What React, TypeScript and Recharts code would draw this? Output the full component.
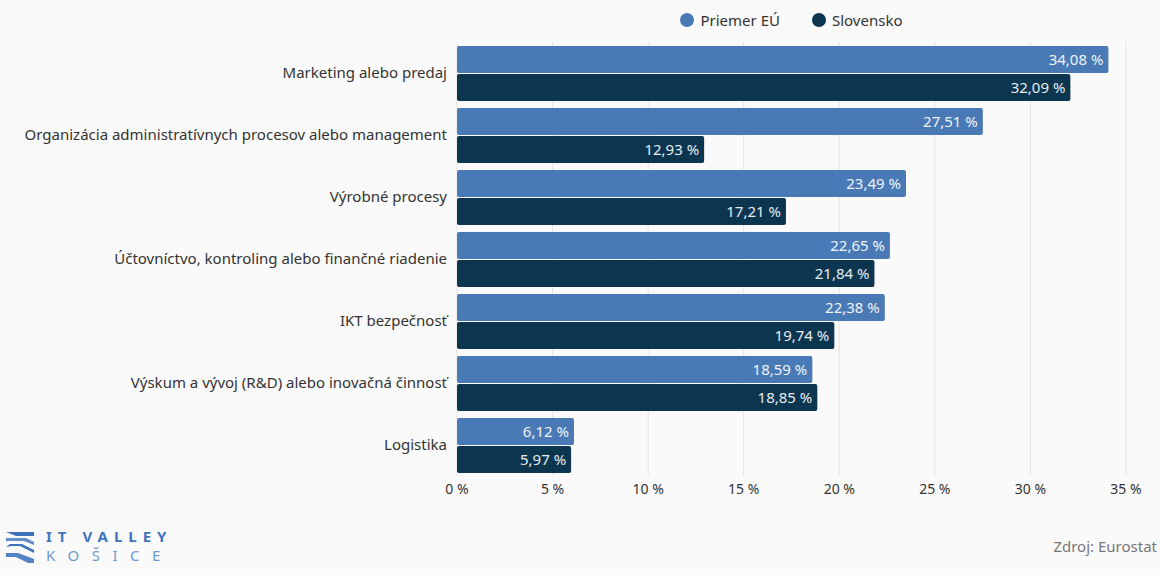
import React from "react";
import { BarChart, Bar, XAxis, YAxis, CartesianGrid, LabelList } from "recharts";

const categories = [
  "Marketing alebo predaj",
  "Organizácia administratívnych procesov alebo management",
  "Výrobné procesy",
  "Účtovníctvo, kontroling alebo finančné riadenie",
  "IKT bezpečnosť",
  "Výskum a vývoj (R&D) alebo inovačná činnosť",
  "Logistika",
];
const priemerEU = [34.08, 27.51, 23.49, 22.65, 22.38, 18.59, 6.12];
const slovensko = [32.09, 12.93, 17.21, 21.84, 19.74, 18.85, 5.97];
const xTicks = [0, 5, 10, 15, 20, 25, 30, 35];

const BLUE = "#4a7ab5";
const DARK = "#0c3550";
const FONT = "'Noto Sans', sans-serif";

const data = categories.map((name, i) => ({ name, eu: priemerEU[i], sk: slovensko[i] }));

const fmt = (v: number) => `${v.toFixed(2).replace(".", ",")} %`;

const LegendBox = () => (
  <div
    style={{
      position: "absolute",
      top: 10,
      left: 457,
      width: 669,
      display: "flex",
      justifyContent: "center",
      gap: 32,
      fontFamily: FONT,
      fontSize: 15,
      color: "#333",
    }}
  >
    {[
      { label: "Priemer EÚ", color: BLUE },
      { label: "Slovensko", color: DARK },
    ].map((it) => (
      <div key={it.label} style={{ display: "flex", alignItems: "center", gap: 6 }}>
        <span style={{ width: 14, height: 14, borderRadius: 7, background: it.color, display: "inline-block" }} />
        <span>{it.label}</span>
      </div>
    ))}
  </div>
);

// simple stand-in for the IT Valley Košice logo
const Logo = () => (
  <svg width={200} height={44} style={{ position: "absolute", left: 4, top: 526 }}>
    <g fill="#3f74bd">
      <path d="M2 6 H30 V10 H12 Z" />
      <path d="M2 12 H22 L30 16 V19 L20 15 H2 Z" opacity={0.8} />
      <path d="M2 21 L6 18 H18 L30 24 V27 L16 20 H8 Z" />
      <path d="M2 27 H14 L30 33 V37 H24 L12 31 H2 Z" opacity={0.9} />
    </g>
    <text x={42} y={16} fontFamily={FONT} fontWeight={700} fontSize={15} fill="#3f74bd" letterSpacing={6}>IT VALLEY</text>
    <text x={42} y={35} fontFamily={FONT} fontSize={15} fill="#6f99cf" letterSpacing={12.5}>KOŠICE</text>
  </svg>
);

export default function App() {
  return (
    <div style={{ position: "relative", width: 1160, height: 575, background: "#fafafa" }}>
      <style>{`body{margin:0;background:#fafafa}`}</style>
      <BarChart
        width={1160}
        height={575}
        data={data}
        layout="vertical"
        margin={{ top: 42, right: 34, bottom: 69, left: 0 }}
        barSize={27}
        barGap={1}
      >
        <CartesianGrid horizontal={false} stroke="#e4e4e4" />
        <XAxis
          type="number"
          domain={[0, 35]}
          ticks={xTicks}
          tickFormatter={(v) => `${v} %`}
          axisLine={false}
          tickLine={false}
          height={30}
          tick={{ fill: "#333", fontSize: 14, fontFamily: FONT }}
        />
        <YAxis
          type="category"
          dataKey="name"
          width={457}
          axisLine={false}
          tickLine={false}
          tickMargin={4}
          tick={{ fill: "#333", fontSize: 15, fontFamily: FONT }}
        />
        <Bar dataKey="eu" name="Priemer EÚ" fill={BLUE} radius={2} isAnimationActive={false}>
          <LabelList dataKey="eu" position="insideRight" formatter={fmt} fill="#eef3fa" fontSize={15} fontFamily={FONT} />
        </Bar>
        <Bar dataKey="sk" name="Slovensko" fill={DARK} radius={2} isAnimationActive={false}>
          <LabelList dataKey="sk" position="insideRight" formatter={fmt} fill="#e6ecf2" fontSize={15} fontFamily={FONT} />
        </Bar>
      </BarChart>
      <LegendBox />
      <Logo />
      <div style={{ position: "absolute", right: 3, top: 536, fontFamily: FONT, fontSize: 15, color: "#777" }}>
        Zdroj: Eurostat
      </div>
    </div>
  );
}
